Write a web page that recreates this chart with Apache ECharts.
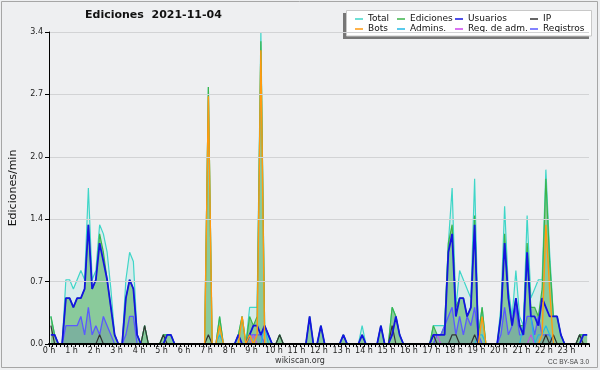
<!DOCTYPE html>
<html>
<head>
<meta charset="utf-8">
<script src="https://cdn.jsdelivr.net/npm/echarts@6/dist/echarts.min.js"></script>
<style>
html,body{margin:0;padding:0;background:#eeeff1;}
#c{width:600px;height:370px;}
</style>
</head>
<body>
<div id="c"></div>
<script>
// 10-minute slots, 6 per hour (values = edits per minute)
const hourLabels = Array.from({length: 24}, (_, h) => h + ' h');
const slotTimes = Array.from({length: 144}, (_, i) => (i + 0.5) / 6); // slot centres, in hours

const totalVals = [
  0.3,0.1,0,0,0.7,0.7,  0.6,0.7,0.8,0.7,1.7,0.7,  0.8,1.3,1.2,1.0,0.6,0.1,  0,0,0.7,1.0,0.9,0.1,
  0,0.2,0,0,0,0,        0.1,0.1,0.1,0,0,0,        0,0,0,0,0,0,              2.8,0,0,0.3,0,0,
  0,0,0.1,0.3,0,0.4,    0.4,0.4,3.4,0.2,0.1,0,    0,0.1,0,0,0,0,            0,0,0,0.3,0,0,
  0.2,0,0,0,0,0,        0.1,0,0,0,0,0.2,          0,0,0,0,0.2,0,            0,0.4,0.3,0.1,0,0,
  0,0,0,0,0,0,          0.2,0.2,0.2,0.2,1.1,1.7,  0.4,0.8,0.7,0.6,0.5,1.8,  0.1,0.4,0,0,0,0,
  0.4,1.5,0.6,0.3,0.8,0.3, 0.2,1.4,0.5,0.6,0.7,0.7, 1.9,1.0,0.3,0.3,0.1,0, 0,0,0,0.1,0.1,0.1
];
const edicionesVals = [
  0.3,0.1,0,0,0.5,0.5,  0.4,0.5,0.5,0.6,1.3,0.6,  0.7,1.2,1.0,0.7,0.4,0.1,  0,0,0.5,0.7,0.6,0.1,
  0,0.2,0,0,0,0,        0.1,0.1,0.1,0,0,0,        0,0,0,0,0,0,              2.8,0,0,0.3,0,0,
  0,0,0.1,0.3,0,0.3,    0.2,0.3,3.3,0.2,0.1,0,    0,0.1,0,0,0,0,            0,0,0,0.3,0,0,
  0.2,0,0,0,0,0,        0.1,0,0,0,0,0.1,          0,0,0,0,0.2,0,            0,0.4,0.3,0.1,0,0,
  0,0,0,0,0,0,          0.2,0.1,0.1,0.2,1.1,1.3,  0.4,0.5,0.5,0.3,0.4,1.4,  0.1,0.4,0,0,0,0,
  0.3,1.2,0.5,0.2,0.5,0.2, 0.2,1.1,0.4,0.4,0.3,0.6, 1.8,0.9,0.3,0.3,0.1,0, 0,0,0,0.1,0.1,0.1
];
const usuariosVals = [
  0.1,0.1,0,0,0.5,0.5,  0.4,0.5,0.5,0.6,1.3,0.6,  0.7,1.1,0.9,0.7,0.4,0.1,  0,0,0.5,0.7,0.6,0.1,
  0,0,0,0,0,0,          0,0.1,0.1,0,0,0,          0,0,0,0,0,0,              0,0,0,0,0,0,
  0,0,0.1,0,0,0.1,      0.2,0.2,0.1,0.2,0.1,0,    0,0,0,0,0,0,              0,0,0,0.3,0,0,
  0.2,0,0,0,0,0,        0.1,0,0,0,0,0.1,          0,0,0,0,0.2,0,            0,0.1,0.3,0.1,0,0,
  0,0,0,0,0,0,          0.1,0.1,0.1,0.1,1.0,1.2,  0.3,0.5,0.5,0.3,0.4,1.3,  0,0,0,0,0,0,
  0.3,1.1,0.5,0.2,0.5,0.2, 0.1,1.0,0.3,0.3,0.2,0.5, 0.4,0.3,0.3,0.3,0.1,0, 0,0,0,0,0.1,0.1
];
const ipVals = [
  0.2,0,0,0,0,0,  0,0,0,0,0,0,  0,0.1,0,0,0,0,  0,0,0,0,0,0,
  0,0.2,0,0,0,0,  0.1,0,0,0,0,0, 0,0,0,0,0,0,   0.1,0,0,0,0,0,
  0,0,0,0,0,0,    0,0,0,0,0,0,   0,0.1,0,0,0,0, 0,0,0,0,0,0,
  0,0,0,0,0,0,    0,0,0,0,0,0,   0,0,0,0,0,0,   0,0.2,0,0,0,0,
  0,0,0,0,0,0,    0.1,0,0,0,0,0.1, 0.1,0,0,0,0,0.1, 0,0,0,0,0,0,
  0,0,0,0,0,0,    0,0,0,0,0,0,   0.1,0,0.1,0,0,0, 0,0,0,0.1,0,0
];
const botsVals = [
  0,0,0,0,0,0,  0,0,0,0,0,0,  0,0,0,0,0,0,  0,0,0,0,0,0,
  0,0,0,0,0,0,  0,0,0,0,0,0,  0,0,0,0,0,0,  2.7,0,0,0.2,0,0,
  0,0,0,0.3,0,0.1, 0,0.1,3.2,0,0,0, 0,0,0,0,0,0, 0,0,0,0,0,0,
  0,0,0,0,0,0,  0,0,0,0,0,0,  0,0,0,0,0,0,  0,0,0,0,0,0,
  0,0,0,0,0,0,  0,0,0,0,0,0,  0,0,0,0,0,0,  0,0.3,0,0,0,0,
  0,0,0,0,0,0,  0,0,0,0,0,0.1, 1.3,0.6,0,0,0,0, 0,0,0,0,0,0
];
const adminsVals = [
  0,0,0,0,0,0,  0,0,0,0,0,0,  0,0,0,0,0,0,  0,0,0,0,0,0,
  0,0,0,0,0,0,  0,0,0,0,0,0,  0,0,0,0,0,0,  0,0,0,0.1,0,0,
  0,0,0,0,0,0,  0,0,0,0.2,0,0, 0,0,0,0,0,0,  0,0,0,0,0,0,
  0,0,0,0,0,0,  0,0,0,0,0,0,  0,0,0,0,0,0,  0,0,0,0,0,0,
  0,0,0,0,0,0,  0,0,0,0,0,0,  0,0,0,0,0,0,  0.1,0.1,0,0,0,0,
  0,0,0,0,0,0,  0.2,1.0,0.3,0,0.1,0.1, 0.2,0.1,0,0,0,0, 0,0,0,0,0,0
];
const regAdmVals = [
  0,0,0,0,0,0,  0,0,0,0,0,0,  0,0,0,0,0,0,  0,0,0,0,0,0,
  0,0,0,0,0,0,  0,0,0,0,0,0,  0,0,0,0,0,0,  0,0,0,0,0,0,
  0,0,0,0,0,0,  0.1,0,0,0,0,0, 0,0,0,0,0,0,  0,0,0,0,0,0,
  0,0,0,0,0,0,  0,0,0,0,0,0,  0,0,0,0,0,0,  0,0,0,0,0,0,
  0,0,0,0,0,0,  0.1,0.1,0,0,0,0, 0,0,0,0,0,0, 0,0,0,0,0,0,
  0,0,0,0,0,0,  0,0,0.1,0,0,0, 0,0,0,0,0,0,  0,0,0,0,0,0
];
const registrosVals = [
  0,0,0,0,0.2,0.2,  0.2,0.2,0.3,0.1,0.4,0.1,  0.2,0.1,0.3,0.2,0.1,0,  0,0,0.1,0.3,0.3,0,
  0,0,0,0,0,0,      0,0,0,0,0,0,              0,0,0,0,0,0,            0,0,0,0,0,0,
  0,0,0,0,0,0.1,    0.1,0.1,0.1,0,0,0,        0,0,0,0,0,0,            0,0,0,0,0,0,
  0,0,0,0,0,0,      0,0,0,0,0,0,              0,0,0,0,0,0,            0,0,0,0,0,0,
  0,0,0,0,0,0,      0,0.1,0.1,0.2,0.3,0.4,    0.1,0.3,0.1,0.3,0.2,0.4, 0.1,0,0,0,0,0,
  0.1,0.4,0.1,0.2,0.4,0.1, 0.1,0.3,0.3,0.1,0.3,0.1, 0.1,0.1,0,0,0,0, 0,0,0,0,0,0
];

const yTickLabels = ['0.0','0.7','1.4','2.0','2.7','3.4'];

function pts(vals){ return vals.map((v,i)=>[slotTimes[i], v]); }
function line(name, vals, color, width, area){
  const s = {type:'line', name, data:pts(vals), symbol:'none', showSymbol:false,
    lineStyle:{color, width}, itemStyle:{color}, silent:true, animation:false};
  if(area) s.areaStyle = {color: area, opacity: 1};
  return s;
}

const chart = echarts.init(document.getElementById('c'), null, {renderer:'canvas'});
const FONT = 'DejaVu Sans';
const legendBase = {orient:'vertical', top:14, itemGap:0, itemWidth:8, itemHeight:1.5, icon:'rect',
  padding:0, selectedMode:false, textStyle:{fontSize:9, fontFamily:FONT, color:'#111', lineHeight:10}};

chart.setOption({
  backgroundColor:'#eeeff1',
  animation:false,
  title:{text:'Ediciones  2021-11-04', left:85, top:10, padding:0,
    textStyle:{fontSize:11, fontWeight:'bold', fontFamily:FONT, color:'#111'}},
  grid:{left:46, right:11, top:32, bottom:26},
  xAxis:{type:'value', min:0, max:24, interval:1, z:10,
    axisLine:{lineStyle:{color:'#000', width:2}},
    axisTick:{show:true, length:3, lineStyle:{color:'#000'}},
    minorTick:{show:true, splitNumber:6, length:3, lineStyle:{color:'#000'}},
    splitLine:{show:false},
    axisLabel:{fontSize:8, fontFamily:FONT, color:'#222', margin:3,
      formatter:v => (v < 24 ? hourLabels[v] : '')}},
  yAxis:{type:'value', min:0, max:3.4, interval:0.68, z:10,
    name:'Ediciones/min', nameLocation:'middle', nameGap:30,
    nameTextStyle:{fontSize:11, fontFamily:FONT, color:'#111'},
    axisLine:{show:true, lineStyle:{color:'#000', width:1}},
    axisTick:{show:true, length:4, lineStyle:{color:'#000'}},
    splitLine:{lineStyle:{color:'#d2d3d5', width:1}},
    axisLabel:{fontSize:8, fontFamily:FONT, color:'#222', margin:6,
      formatter:v => yTickLabels[Math.round(v/0.68)]}},
  legend:[
    Object.assign({left:355, data:['Total','Bots']}, legendBase),
    Object.assign({left:397, data:['Ediciones','Admins.']}, legendBase),
    Object.assign({left:455, data:['Usuarios','Reg. de adm.']}, legendBase),
    Object.assign({left:530, data:['IP','Registros']}, legendBase)
  ],
  graphic:[
    {type:'rect', z:-1, shape:{x:1.5, y:1.5, width:596, height:366}, style:{fill:'none', stroke:'#a6a6a6', lineWidth:1}},
    {type:'rect', z:0, shape:{x:343, y:13, width:246, height:26}, style:{fill:'#777777'}},
    {type:'rect', z:1, shape:{x:346.5, y:10.5, width:245, height:25.5}, style:{fill:'#ffffff', stroke:'#c8c8c8', lineWidth:1}},
    {type:'text', z:5, style:{x:300, y:361, text:'wikiscan.org', textAlign:'center', textVerticalAlign:'middle',
      font:'8px "DejaVu Sans"', fill:'#333'}},
    {type:'text', z:5, style:{x:589, y:362, text:'CC BY-SA 3.0', textAlign:'right', textVerticalAlign:'middle',
      font:'6.5px "Liberation Sans"', fill:'#444'}}
  ],
  series:[
    line('Total', totalVals, '#3fd6c8', 1.2, 'rgba(140,225,215,0.22)'),
    line('Ediciones', edicionesVals, '#3cb44a', 1.2, 'rgba(60,170,75,0.5)'),
    line('Registros', registrosVals, '#5a5aff', 1.3, 'rgba(60,70,170,0.18)'),
    line('Admins.', adminsVals, '#22b8e6', 1.2),
    line('Reg. de adm.', regAdmVals, '#cc44ee', 1),
    line('IP', ipVals, '#333333', 1.2),
    line('Usuarios', usuariosVals, '#1414e0', 1.8),
    line('Bots', botsVals, '#ff9a10', 1.4)
  ]
});
</script>
</body>
</html>
